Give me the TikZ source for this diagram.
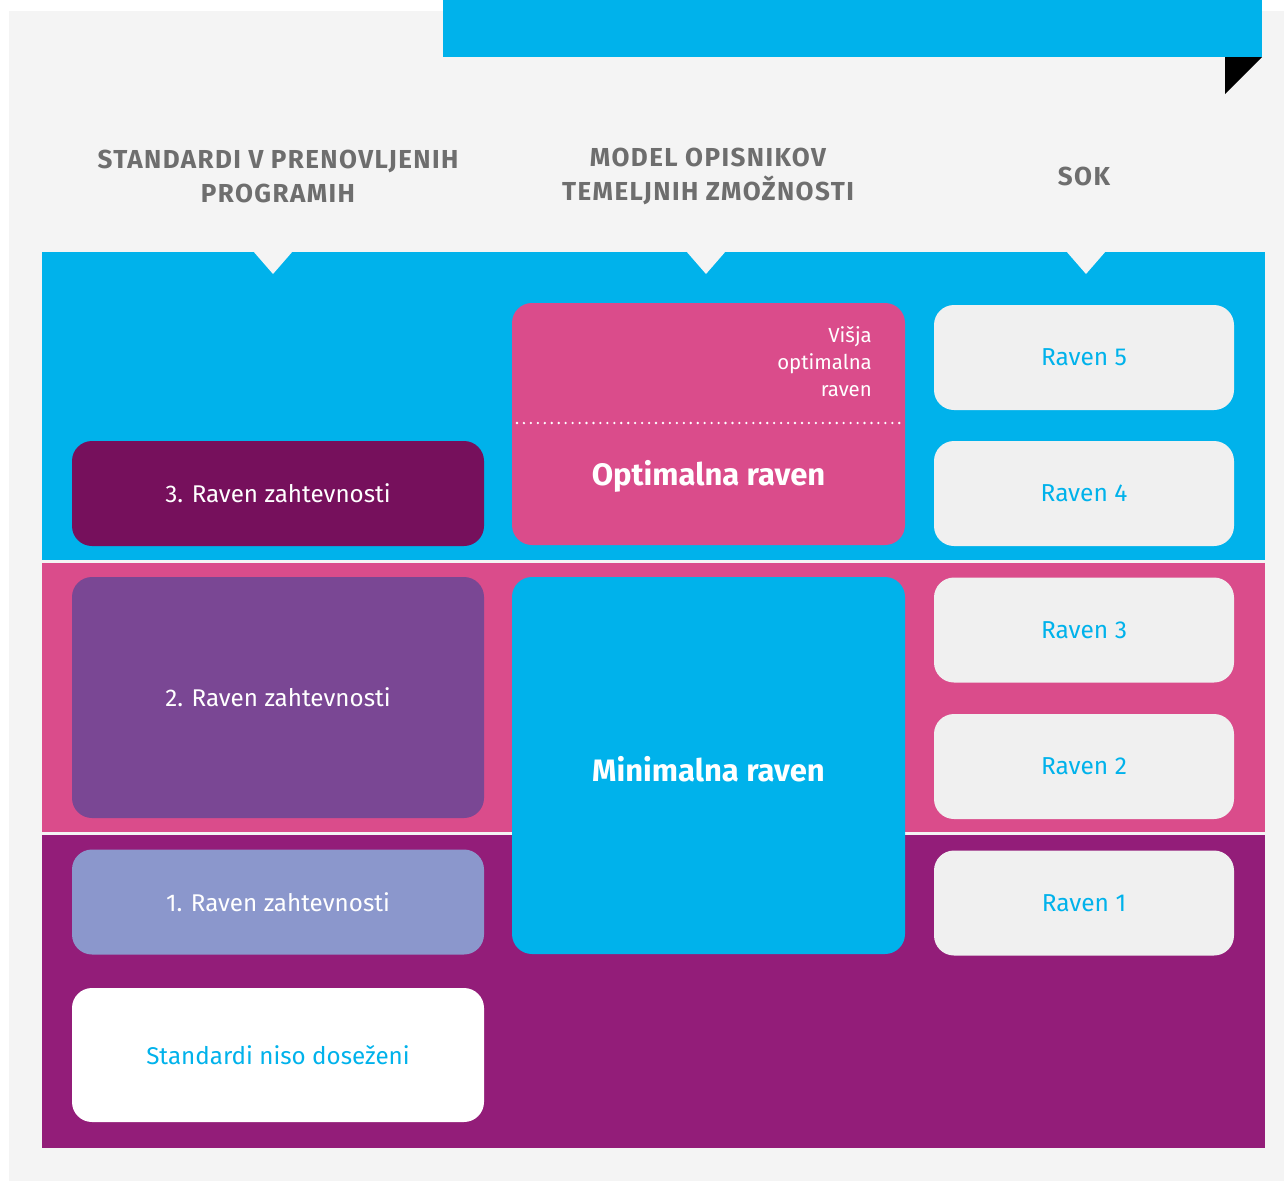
\documentclass[tikz,border=0pt]{standalone}
\usepackage{fontspec}
\setmainfont{Fira Sans}
\definecolor{panelgray}{HTML}{F4F4F4}
\definecolor{skyblue}{HTML}{00B2EB}
\definecolor{rosepink}{HTML}{DA4C8B}
\definecolor{plum}{HTML}{931D79}
\definecolor{darkplum}{HTML}{76105C}
\definecolor{violet}{HTML}{7A4794}
\definecolor{lavender}{HTML}{8B97CC}
\definecolor{boxgray}{HTML}{F0F0F0}
\definecolor{headgray}{HTML}{6E6E6E}
\tikzset{
  lvlbox/.style={rectangle, rounded corners=20pt, inner sep=0pt, minimum width=412pt, minimum height=105pt, text=white, font=\fontsize{24.2}{27}\selectfont},
  sokbox/.style={rectangle, rounded corners=20pt, inner sep=0pt, fill=boxgray, minimum width=300pt, minimum height=105pt, text=skyblue, font=\fontsize{24.5}{27}\selectfont},
  modbox/.style={rectangle, rounded corners=20pt, inner sep=0pt, minimum width=393pt, text=white, font=\bfseries\fontsize{31}{36}\selectfont},
  header/.style={align=center, text=headgray, font=\bfseries\fontsize{26}{34}\selectfont\addfontfeature{LetterSpace=5.4}},
  notch/.style={fill=panelgray}
}
\begin{document}
\begin{tikzpicture}[x=1pt,y=-1pt]
\useasboundingbox (0,0) rectangle (1284,1181);
\fill[white] (0,0) rectangle (1284,1181);
\fill[panelgray] (9,11) rectangle (1284,1181);
% top banner and fold
\fill[skyblue] (443,0) rectangle (1262,57);
\fill[black] (1225,57) -- (1262,57) -- (1225,94) -- cycle;
% headers
\node[header] (h1) at (278,176) {STANDARDI V PRENOVLJENIH\\PROGRAMIH};
\node[header] (h2) at (708,176) {MODEL OPISNIKOV\\TEMELJNIH ZMOŽNOSTI};
\node[header] (h3) at (1084,176) {SOK};
% bands
\fill[skyblue] (42,252) rectangle (1265,560);
\fill[rosepink] (42,563) rectangle (1265,832);
\fill[plum] (42,835) rectangle (1265,1148);
% notches
\foreach \c in {273,706,1086}
  \fill[notch] (\c-20,251) -- (\c+20,251) -- (\c,274) -- cycle;
% standards column
\node[lvlbox, fill=darkplum] (s3) at (278,493.5) {3. Raven zahtevnosti};
\node[lvlbox, fill=violet, minimum height=241pt] (s2) at (278,697.5) {2. Raven zahtevnosti};
\node[lvlbox, fill=lavender] (s1) at (278,902) {1. Raven zahtevnosti};
\node[lvlbox, fill=white, minimum height=134pt, text=skyblue] (s0) at (278,1055) {Standardi niso doseženi};
% model column
\node[modbox, fill=rosepink, minimum height=242pt] (opt) at (708.5,424) {};
\node[text=white, align=right, anchor=north east, inner sep=0pt, font=\fontsize{20.4}{27}\selectfont] (visja) at (872,326) {Višja\\optimalna\\raven};
\node[text=white, font=\bfseries\fontsize{31}{36}\selectfont, inner sep=0pt] (optl) at (708.5,476) {Optimalna raven};
\coordinate (dl) at (517,423);
\coordinate (dr) at (900,423);
\draw[white, line width=2.6pt, line cap=round, dash pattern=on 0pt off 6.95pt] (dl) -- (dr);
\node[modbox, fill=skyblue, minimum height=377pt] (mini) at (708.5,765.5) {};
\node[text=white, font=\bfseries\fontsize{31}{36}\selectfont, inner sep=0pt] (minil) at (708.5,769) {Minimalna raven};
% SOK column
\node[sokbox] (r5) at (1084,357.5) {Raven 5};
\node[sokbox] (r4) at (1084,493.5) {Raven 4};
\node[sokbox] (r3) at (1084,630) {Raven 3};
\node[sokbox] (r2) at (1084,766.5) {Raven 2};
\node[sokbox] (r1) at (1084,903) {Raven 1};
\end{tikzpicture}
\end{document}
